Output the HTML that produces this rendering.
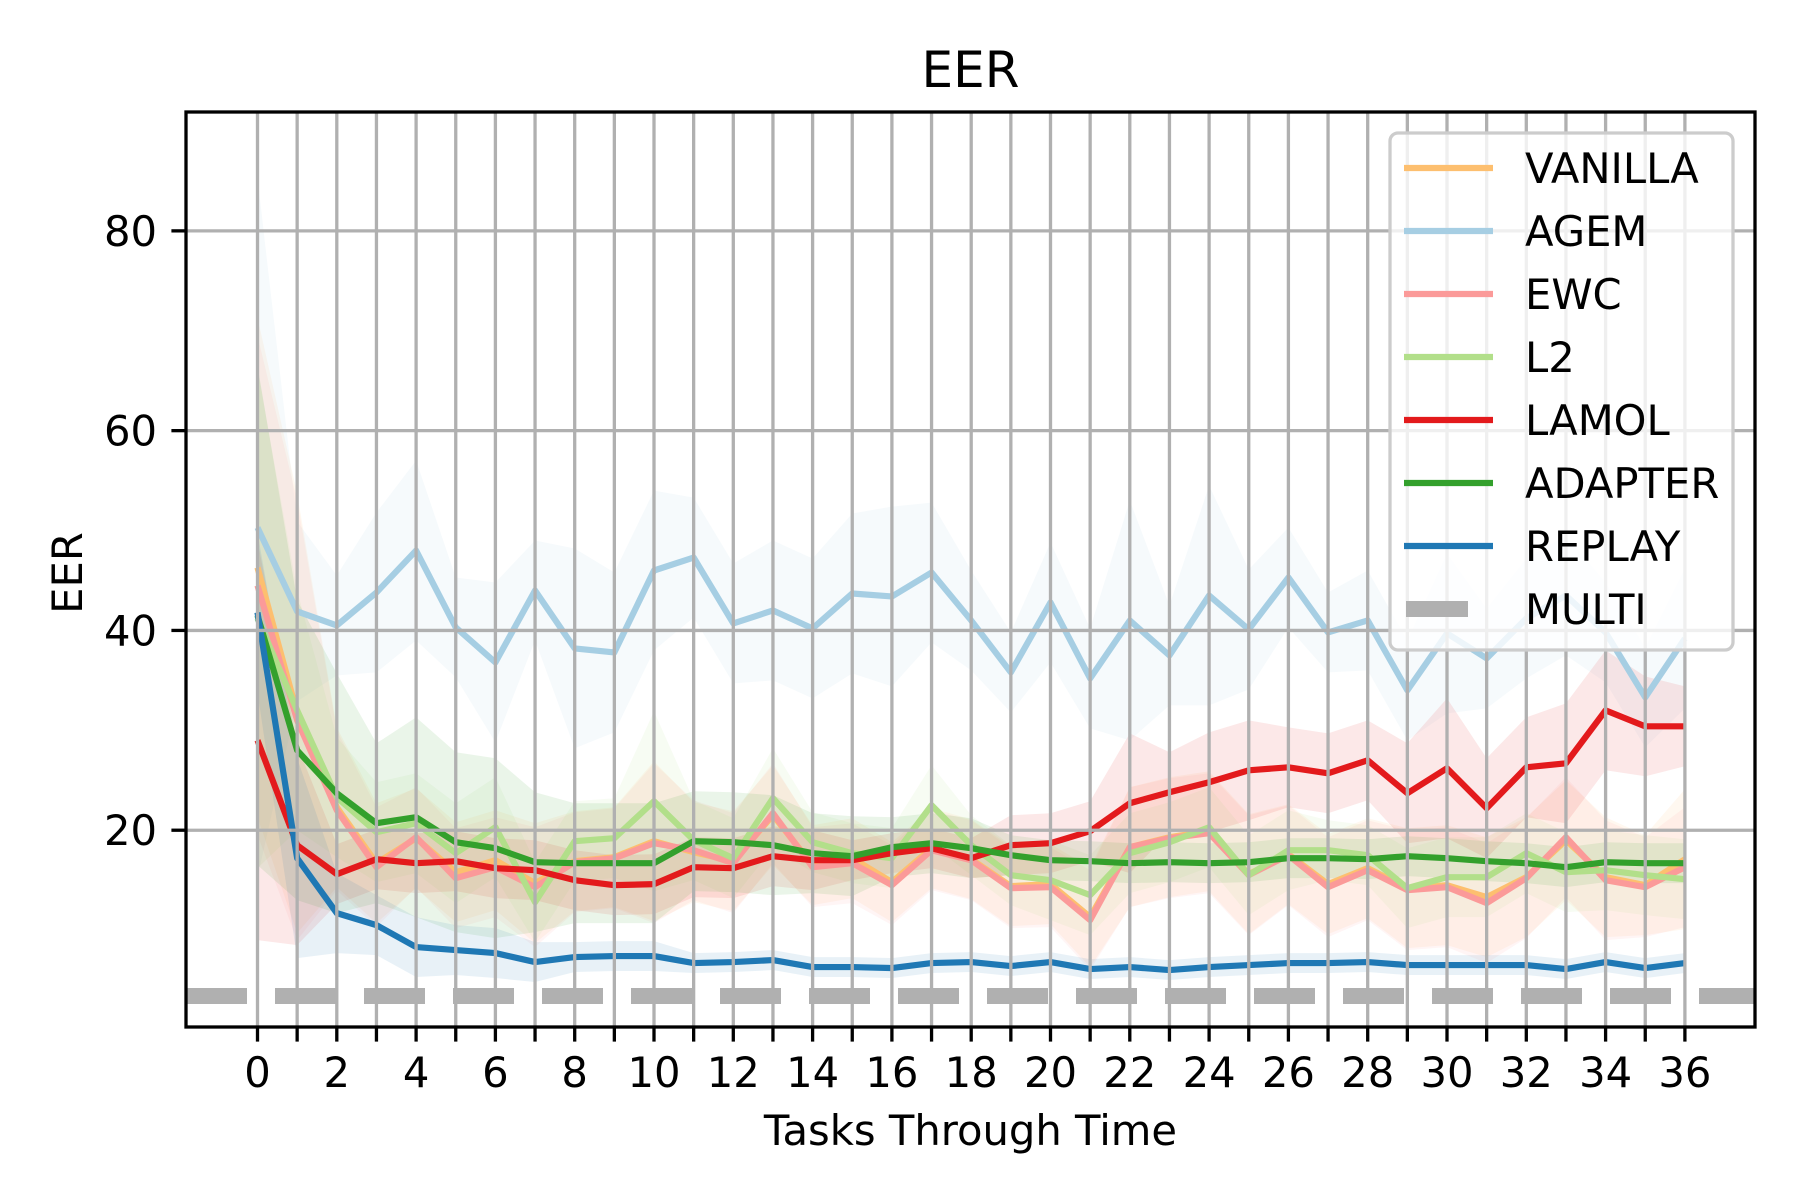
<!DOCTYPE html>
<html><head><meta charset="utf-8"><style>
html,body{margin:0;padding:0;background:#fff;}
svg{display:block;font-family:"DejaVu Sans","Liberation Sans",sans-serif;}
</style></head><body>
<svg id="chart" width="1800" height="1200" viewBox="0 0 1800 1200" xmlns="http://www.w3.org/2000/svg">
<rect width="1800" height="1200" fill="#fff"/>
<g id="bands"></g><g id="lines"></g><g id="grid"></g><g id="axes"></g><g id="legend"></g>
</svg>
<script>
const tasks = Array.from({length:37},(_,i)=>i);
const xTickLabels = [0,2,4,6,8,10,12,14,16,18,20,22,24,26,28,30,32,34,36];
const yTickLabels = [20,40,60,80];
const seriesNames = ["VANILLA","AGEM","EWC","L2","LAMOL","ADAPTER","REPLAY"];
const multiValue = 3.4;
const vanilla = [46.3,31.7,22.3,16.7,19.2,15.8,17,14.7,16.9,17.3,18.9,17.8,16.9,21.5,16.5,17.2,14.8,18.2,17.1,14.4,14.6,11.3,18.3,19.3,19.9,15.6,17.6,14.6,16.2,14.2,14.5,13.3,15.3,19,15.3,14.5,17.1];
const agem = [50.3,41.9,40.5,43.8,48,40.3,36.8,44,38.2,37.8,46,47.3,40.7,42,40.2,43.7,43.4,45.8,41,35.8,42.8,35.2,41,37.5,43.5,40.1,45.3,39.8,41,34,39.7,37.2,41.2,43.5,39.8,33.3,39.2];
const ewc = [44.5,31,22,16.3,19.3,15.2,16.3,14.3,16.8,17.2,18.7,18,16.7,21.7,16.3,16.7,14.5,18,17,14.2,14.3,11,18.3,19.2,19.7,15.5,17.5,14.3,16,14,14.3,12.7,15.2,19.3,15,14.3,16.3];
const l2 = [41.2,32,23.3,19.8,20.7,17.7,20.3,12.8,18.9,19.2,22.9,19,17.2,23.2,18.8,17.7,17.2,22.5,18.5,15.5,15,13.5,17.7,18.8,20.3,15.5,18,18,17.5,14.2,15.3,15.3,17.7,15.8,16,15.5,15.1];
const lamol = [29,18.5,15.6,17.1,16.7,16.9,16.2,16,15,14.5,14.6,16.3,16.2,17.4,17,17,17.7,18.2,17.2,18.5,18.7,19.9,22.7,23.8,24.8,26,26.3,25.7,27,23.7,26.2,22.2,26.3,26.7,32,30.4,30.4];
const adapter = [41.5,28,23.7,20.7,21.3,18.8,18.2,16.8,16.7,16.7,16.7,18.9,18.8,18.5,17.7,17.4,18.3,18.7,18.2,17.5,17,16.9,16.7,16.8,16.7,16.8,17.2,17.2,17.1,17.4,17.2,16.9,16.7,16.3,16.8,16.7,16.7];
const replay = [41.8,17.2,11.7,10.5,8.3,8,7.7,6.8,7.3,7.4,7.4,6.7,6.8,7,6.3,6.3,6.2,6.7,6.8,6.4,6.8,6.1,6.3,6,6.3,6.5,6.7,6.7,6.8,6.5,6.5,6.5,6.5,6.1,6.8,6.2,6.7];
const vanillaStd = [25,22,8,6,5,5,5,6,5,5,8,5,5,5,4,4,4,4,4,4,4,5,6,6,6,6,5,5,5,6,6,6,6,6,6,5,7];
const agemStd = [35,9,5,8,9,5,8,5,10,8,8,6,6,7,7,8,9,7,5,4,6,5,12,5,11,6,5,4,5,5,8,5,6,6,5,5,7];
const ewcStd = [25,22,8,6,5,5,5,6,5,5,8,5,5,5,4,4,4,4,4,4,4,5,6,6,6,6,5,5,5,6,6,6,6,6,6,5,6];
const l2Std = [25,12,6,5,5,5,5,4,4,4,9,4,4,5,3,3,3,4,3,3,4,4,4,4,4,4,4,3,3,4,4,4,4,4,4,4,4];
const lamolStd = [20,10,3,3,3,3,3,3,3,3,3,3,3,3,3,2,2,2,2,3,3,3,7,4,5,5,4,4,4,5,7,5,5,6,6,5,4];
const adapterStd = [25,15,12,8,10,9,9,7,6,6,6,5,5,5,4,4,3,3,3,2,2,2,2,2,2,2,2,2,2,2,2,2,2,2,2,2,2];
const replayStd = [8,10,4,3,3,2.5,2.5,2,1.5,1.5,1.5,1,1,1,1,1,1,1,1,1,1,1,1,1,1,1,1,1,1,1,1,1,1,1,1,1,1];

const NS="http://www.w3.org/2000/svg";
const L=186,R=1755,T=112,B=1027;
const x0px=257.5, xUnit=39.65;
const yMin=0.3, yMax=91.9;
const X=v=>x0px+v*xUnit;
const Y=v=>B-(v-yMin)/(yMax-yMin)*(B-T);
function mk(tag,parent,attrs){const e=document.createElementNS(NS,tag);for(const k in attrs)e.setAttribute(k,attrs[k]);parent.appendChild(e);return e;}
const series=[
 {key:"vanilla",vals:vanilla,std:vanillaStd,color:"#fdbf6f"},
 {key:"agem",vals:agem,std:agemStd,color:"#a6cee3"},
 {key:"ewc",vals:ewc,std:ewcStd,color:"#fb9a99"},
 {key:"l2",vals:l2,std:l2Std,color:"#b2df8a"},
 {key:"lamol",vals:lamol,std:lamolStd,color:"#e31a1c"},
 {key:"adapter",vals:adapter,std:adapterStd,color:"#33a02c"},
 {key:"replay",vals:replay,std:replayStd,color:"#1f78b4"}];
const gB=document.getElementById('bands'),gL=document.getElementById('lines'),gG=document.getElementById('grid'),gA=document.getElementById('axes'),gLeg=document.getElementById('legend');
const clip=mk('clipPath',document.getElementById('chart'),{id:'plotclip'});
mk('rect',clip,{x:L,y:T,width:R-L,height:B-T});
gB.setAttribute('clip-path','url(#plotclip)');
series.forEach(s=>{
  const up=tasks.map(i=>X(i)+','+Y(s.vals[i]+s.std[i]));
  const lo=tasks.map(i=>X(i)+','+Y(s.vals[i]-s.std[i])).reverse();
  const p=mk('polygon',gB,{points:up.concat(lo).join(' '),fill:s.color,'fill-opacity':0.1});
  
  
});
series.forEach(s=>{
  const l=mk('polyline',gL,{points:tasks.map(i=>X(i)+','+Y(s.vals[i])).join(' '),fill:'none',stroke:s.color,'stroke-width':6.2,'stroke-linejoin':'round'});
  
  
});
const ml=mk('line',gL,{x1:L,x2:R,y1:Y(multiValue),y2:Y(multiValue),stroke:'#b0b0b0','stroke-width':16,'stroke-dasharray':'61 28'});


tasks.forEach(i=>{
  const g=mk('line',gG,{x1:X(i),x2:X(i),y1:T,y2:B,stroke:'#b0b0b0','stroke-width':3.3});
  
  
  const t=mk('line',gA,{x1:X(i),x2:X(i),y1:B,y2:B+14.6,stroke:'#000','stroke-width':3.3});
  
  
});
xTickLabels.forEach(v=>{
  const t=mk('text',gA,{x:X(v),y:1087,'text-anchor':'middle','font-size':41.7,fill:'#000'});
  t.textContent=v;
  
  
});
yTickLabels.forEach(v=>{
  const g=mk('line',gG,{x1:L,x2:R,y1:Y(v),y2:Y(v),stroke:'#b0b0b0','stroke-width':3.3});
  
  
  const tk=mk('line',gA,{x1:L-14.6,x2:L,y1:Y(v),y2:Y(v),stroke:'#000','stroke-width':3.3});
  
  
  const t=mk('text',gA,{x:L-29,y:Y(v)+15,'text-anchor':'end','font-size':41.7,fill:'#000'});
  t.textContent=v;
  
  
});
const frame=mk('rect',gA,{x:L,y:T,width:R-L,height:B-T,fill:'none',stroke:'#000','stroke-width':3.3});


const title=mk('text',gA,{x:(L+R)/2,y:87,'text-anchor':'middle','font-size':50,fill:'#000'});
title.textContent='EER';


const xl=mk('text',gA,{x:(L+R)/2,y:1145,'text-anchor':'middle','font-size':41.7,fill:'#000'});
xl.textContent='Tasks Through Time';


const yl=mk('text',gA,{x:0,y:0,'text-anchor':'middle','font-size':41.7,fill:'#000',transform:'translate(82,573) rotate(-90)'});
yl.textContent='EER';


const box=mk('rect',gLeg,{x:1390,y:133,width:343,height:517,rx:8,fill:'#fff','fill-opacity':0.8,stroke:'#cccccc','stroke-width':3.3});


const legItems=series.map((s,i)=>({name:seriesNames[i],color:s.color,dash:false})).concat([{name:'MULTI',color:'#b0b0b0',dash:true}]);
legItems.forEach((it,k)=>{
  const y=168+k*63;
  const h=it.dash?mk('line',gLeg,{x1:1406,x2:1468,y1:y,y2:y,stroke:it.color,'stroke-width':16}):mk('line',gLeg,{x1:1404,x2:1493,y1:y,y2:y,stroke:it.color,'stroke-width':6.2});
  
  
  const t=mk('text',gLeg,{x:1525,y:y+15,'font-size':41.7,fill:'#000'});
  t.textContent=it.name;
  
  
});
</script>
</body></html>
